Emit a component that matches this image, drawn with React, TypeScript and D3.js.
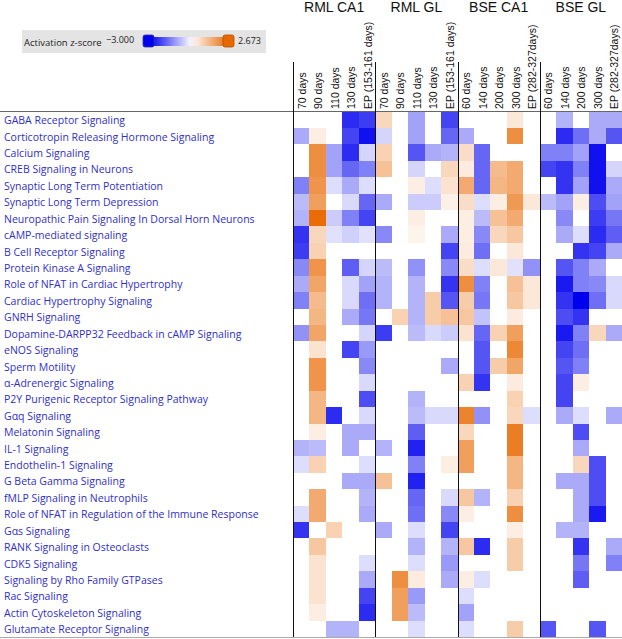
import React from 'react';
import * as d3 from 'd3';

const pathways = [
  "GABA Receptor Signaling",
  "Corticotropin Releasing Hormone Signaling",
  "Calcium Signaling",
  "CREB Signaling in Neurons",
  "Synaptic Long Term Potentiation",
  "Synaptic Long Term Depression",
  "Neuropathic Pain Signaling In Dorsal Horn Neurons",
  "cAMP-mediated signaling",
  "B Cell Receptor Signaling",
  "Protein Kinase A Signaling",
  "Role of NFAT in Cardiac Hypertrophy",
  "Cardiac Hypertrophy Signaling",
  "GNRH Signaling",
  "Dopamine-DARPP32 Feedback in cAMP Signaling",
  "eNOS Signaling",
  "Sperm Motility",
  "α-Adrenergic Signaling",
  "P2Y Purigenic Receptor Signaling Pathway",
  "Gαq Signaling",
  "Melatonin Signaling",
  "IL-1 Signaling",
  "Endothelin-1 Signaling",
  "G Beta Gamma Signaling",
  "fMLP Signaling in Neutrophils",
  "Role of NFAT in Regulation of the Immune Response",
  "Gαs Signaling",
  "RANK Signaling in Osteoclasts",
  "CDK5 Signaling",
  "Signaling by Rho Family GTPases",
  "Rac Signaling",
  "Actin Cytoskeleton Signaling",
  "Glutamate Receptor Signaling",
];

const groups = ["RML CA1", "RML GL", "BSE CA1", "BSE GL"];
const rmlTimepoints = ["70 days", "90 days", "110 days", "130 days", "EP (153-161 days)"];
const bseTimepoints = ["60 days", "140 days", "200 days", "300 days", "EP (282-327days)"];

const zMin = -3.0;
const zMax = 2.673;

// activation z-scores, one row per pathway, one value per time point (0 = not significant)
const rmlCA1 = [
  [0, 0, 0, -2.5, -2.3],
  [-1.0, 0.3, 0, -2.2, -2.8],
  [0, 2.0, -1.1, -2.5, -0.5],
  [0, 2.0, -1.1, -1.8, -1.5],
  [-1.5, 1.9, -0.4, -1.0, -0.4],
  [-0.8, 1.7, 0, -0.45, -1.8],
  [-0.9, 2.6, -0.6, -1.5, -2.2],
  [-2.4, 0.7, -0.35, -0.55, -0.35],
  [-2.3, 0.8, 0, 0, 0],
  [-1.4, 1.9, 0, -1.9, -0.5],
  [-1.0, 1.6, 0, -0.45, -1.1],
  [-1.5, 1.2, 0, -0.45, -1.7],
  [0, 1.3, 0, -1.0, -1.6],
  [-1.3, 1.6, 0, 0, -0.5],
  [0, 0.5, 0, -2.2, -1.2],
  [0, 1.9, 0, 0, -1.4],
  [0, 1.9, 0, 0, -0.45],
  [0, 1.3, 0, 0, -2.1],
  [0, 1.3, -2.5, 0, -0.45],
  [0, 0.3, 0, -1.0, -1.0],
  [-0.9, -0.8, 0, -1.0, 0],
  [-0.4, 0.8, 0, 0, -0.4],
  [0, 0, 0, -1.0, -1.0],
  [0, 1.5, 0, 0, -0.9],
  [-0.4, 1.5, 0, 0, -1.0],
  [-2.4, 0, 0.8, 0, 0],
  [0, 1.0, 0, 0, 0],
  [0, 0.5, 0, 0, -0.4],
  [0, 0.5, 0, 0, -1.0],
  [0, 0.5, 0, 0, -2.2],
  [0, 0.3, 0, 0, -2.5],
  [0, 0, -0.9, -0.9, 0],
];

const rmlGL = [
  [0.7, 0, -1.1, 0, -2.2],
  [-0.5, 0, -1.1, 0, -1.8],
  [0.8, 0, -2.0, -1.0, -0.9],
  [1.1, 0, -0.5, 0, 0.7],
  [0, 0, 0.3, -0.4, 0.5],
  [-1.0, 0, -0.6, -0.6, 0.25],
  [0, 0, 0.3, 0, 0],
  [-1.4, 0, 0.2, 0, -1.0],
  [0, 0, 0, 0, -2.2],
  [-0.8, 0, -1.3, 0, -1.4],
  [-0.9, 0, -0.9, 0, -2.4],
  [-0.9, 0, -0.9, 0.9, -2.0],
  [0, 0.8, -0.9, 0.9, 1.1],
  [-2.3, 0, -0.8, -0.45, -0.6],
  [0, 0, 0, 0, 0],
  [0, 0, 0, 0, -1.0],
  [0, 0, 0, 0, 0],
  [0, 0, -0.9, 0, 0],
  [0, 0, -0.8, -0.45, -0.45],
  [0, 0, -1.9, 0, 0],
  [-0.9, 0, -2.6, 0, 0],
  [0, 0, -1.5, 0, 0.3],
  [1.1, 0, -2.6, 0, 0],
  [0, 0, -1.8, 0, -0.45],
  [0, 0, -1.7, 0, -1.4],
  [-1.0, 0, -0.4, 0, -2.2],
  [0, 0, -0.9, 0, -0.9],
  [0, 0, -0.4, 0, -1.2],
  [0, 2.0, 0.35, 0, -1.0],
  [0, 1.7, -1.2, 0, 0],
  [0, 1.7, -0.8, 0, 0],
  [0, 0, -0.4, 0, 0],
];

const bseCA1 = [
  [0, 0, 0, 0.4, 0],
  [-1.0, 0, 0, 2.0, 0],
  [0.6, -1.8, 0, 0, 0],
  [0.35, -1.8, 1.2, 1.5, 0],
  [1.5, -1.8, 1.3, 1.5, 0],
  [0.6, -0.4, 0.3, 1.8, 0.4],
  [0.3, -0.8, 1.1, 1.5, 0],
  [0.3, -1.4, 0.7, 1.0, 0],
  [0.35, -1.7, 0, 0.4, 0],
  [0.6, -0.4, 0.4, -0.35, -1.3],
  [2.0, -1.5, 0, 1.1, 0.4],
  [0.9, -1.6, 0, 1.0, 0.4],
  [1.0, -0.7, 0, 0.35, 0],
  [0.5, -1.8, 0.8, 1.7, 0],
  [0, -2.0, 0, 2.1, 0],
  [0, -2.0, 0.9, 1.6, 0],
  [0.8, -2.4, 0, 0.35, 0],
  [0, 0, 0, 0.8, 0],
  [2.2, -1.3, 0, 0.7, -0.4],
  [0.7, 0, 0, 2.3, 0],
  [1.7, 0, 0, 2.3, 0],
  [1.7, 0, 0, 1.3, 0],
  [0, 0, 0, 1.3, 0],
  [1.0, -0.9, 0, 0.8, 0],
  [0.3, 0, 0, 2.0, 0],
  [0, 0, 0, 0.3, 0],
  [1.0, -2.5, 0, 0.9, 0],
  [0, 0, 0, 0.9, 0],
  [0.3, -0.4, 0, 0, 0],
  [-0.4, 0, 0, 0, 0],
  [-1.1, 0, 0, 0, 0],
  [-0.4, 0, 0, 0.9, 0],
];

const bseGL = [
  [0, -0.9, 0, -1.0, -1.0],
  [0, -2.5, -1.7, -1.0, -2.0],
  [-1.5, -1.5, -1.1, -2.8, 0],
  [-2.2, -2.4, -1.5, -2.8, -0.5],
  [0, -2.4, -1.1, -2.8, -1.0],
  [-0.8, -1.1, 0.3, -2.1, -1.1],
  [0, -1.4, 0, -2.3, -1.6],
  [0, -1.0, -0.4, -2.5, -1.9],
  [0, 0, -2.4, -2.2, -1.0],
  [0, -2.0, -1.5, -1.0, 0],
  [0, -2.7, -1.5, -1.4, -0.45],
  [0, -2.4, -3.0, -1.7, -0.45],
  [0, -2.1, -2.4, 0, 0],
  [0, -2.7, -1.5, 0.7, -1.0],
  [0, -2.2, -1.7, 0, 0],
  [0, -2.0, -1.5, 0, 0],
  [0, -2.2, 0.3, 0, 0],
  [0, -2.2, 0, 0, 0],
  [0, -1.0, -0.4, 0, -1.0],
  [0, 0, -2.1, 0, 0],
  [0, 0, -1.0, 0, 0],
  [0, 0, 0.7, -2.1, 0],
  [0, -1.0, -1.0, -2.1, 0],
  [0, 0, -1.0, -2.1, 0],
  [0, 0, -1.0, -2.7, 0],
  [0, -0.9, -0.9, 0, 0],
  [0, 0, -2.4, 0, -1.0],
  [0, 0, -1.6, 0, -1.5],
  [0, 0, -1.9, 0, 0],
  [0, 0, 0, 0, 0],
  [0, 0, 0, 0, 0],
  [-2.0, 0, 0, -2.0, 0],
];

const W = 622;
const H = 639;

export default function App() {
  const groupValues = [rmlCA1, rmlGL, bseCA1, bseGL];
  const groupCols = [rmlTimepoints, rmlTimepoints, bseTimepoints, bseTimepoints];
  const columns = groups.flatMap((g, gi) =>
    groupCols[gi].map((t, ti) => ({ key: `${g}|${t}`, g, gi, t, ti }))
  );

  const left = 293;
  const top = 111.5;
  const bottom = 637;

  const x = d3.scaleBand<string>().domain(columns.map((c) => c.key)).range([left, W]);
  const xg = d3.scaleBand<string>().domain(groups).range([left, W]);
  const y = d3.scaleBand<string>().domain(pathways).range([top, bottom]);
  const color = d3
    .scaleLinear<string>()
    .domain([zMin, 0, zMax])
    .range(["#0000ee", "#ffffff", "#e86800"])
    .interpolate(d3.interpolateRgb);

  const cells: { key: string; px: number; py: number; v: number }[] = [];
  pathways.forEach((p, ri) => {
    columns.forEach((c) => {
      const v = groupValues[c.gi][ri][c.ti];
      if (v !== 0) cells.push({ key: `${p}|${c.key}`, px: x(c.key)!, py: y(p)!, v });
    });
  });

  // legend
  const lg = d3.scaleLinear().domain([zMin, zMax]).range([150, 229]);
  const gradStops = d3.range(0, 1.0001, 0.1).map((t) => {
    const v = zMin + t * (zMax - zMin);
    return { offset: `${t * 100}%`, c: color(v) };
  });

  return (
    <svg
      width={W}
      height={H}
      style={{ position: 'absolute', left: 0, top: 0, background: '#fff' }}
      fontFamily="'Liberation Sans', Arial, sans-serif"
    >
      <defs>
        <linearGradient id="zgrad" x1="0" x2="1" y1="0" y2="0">
          {gradStops.map((s) => (
            <stop key={s.offset} offset={s.offset} stopColor={s.c} />
          ))}
        </linearGradient>
      </defs>

      {/* legend */}
      <rect x={22} y={30} width={244} height={23} fill="#e4e4e4" />
      <text x={24} y={46} fontSize={9.5} fontFamily="'Open Sans', sans-serif" fill="#222">
        Activation z-score
      </text>
      <text x={106} y={43} fontSize={9} fontFamily="'Open Sans', sans-serif" fill="#222">
        {d3.format(".3f")(zMin)}
      </text>
      <rect x={lg(zMin)} y={37} width={lg(zMax) - lg(zMin)} height={9} fill="url(#zgrad)" />
      <rect x={lg(zMin) - 7} y={35} width={11} height={12} rx={2} fill={color(zMin)} stroke="#333399" strokeWidth={0.8} />
      <rect x={lg(zMax) - 6} y={35} width={11} height={12} rx={2} fill={color(zMax)} stroke="#b05000" strokeWidth={0.8} />
      <text x={238} y={44} fontSize={9} fontFamily="'Open Sans', sans-serif" fill="#222">
        {d3.format(".3f")(zMax)}
      </text>

      {/* group headers */}
      {groups.map((g) => (
        <text key={g} x={xg(g)! + xg.bandwidth() / 2} y={12} fontSize={14} textAnchor="middle" fill="#111">
          {g}
        </text>
      ))}

      {/* column headers */}
      {columns.map((c) => (
        <text
          key={c.key}
          transform={`translate(${x(c.key)! + x.bandwidth() / 2 + 0.5},109) rotate(-90)`}
          fontSize={10.5}
          dominantBaseline="central"
          fill="#111"
        >
          {c.t}
        </text>
      ))}

      {/* cells */}
      <g shapeRendering="crispEdges">
        {cells.map((c) => (
          <rect key={c.key} x={c.px} y={c.py} width={x.bandwidth()} height={y.bandwidth()} fill={color(c.v)} />
        ))}
      </g>

      {/* row labels */}
      {pathways.map((p) => (
        <text
          key={p}
          x={4}
          y={y(p)! + y.bandwidth() / 2 + 0.5}
          fontSize={10.5}
          fontFamily="'Open Sans', sans-serif"
          dominantBaseline="central"
          fill="#2f2fc8"
        >
          {p}
        </text>
      ))}

      {/* grid lines */}
      <line x1={0} x2={W} y1={111.5} y2={111.5} stroke="#666" strokeWidth={1} />
      <line x1={0} x2={W} y1={637.5} y2={637.5} stroke="#aaa" strokeWidth={1} />
      {groups.map((g) => (
        <line
          key={g}
          x1={Math.round(xg(g)!) + 0.5}
          x2={Math.round(xg(g)!) + 0.5}
          y1={62}
          y2={637}
          stroke="#111"
          strokeWidth={1}
        />
      ))}
    </svg>
  );
}
